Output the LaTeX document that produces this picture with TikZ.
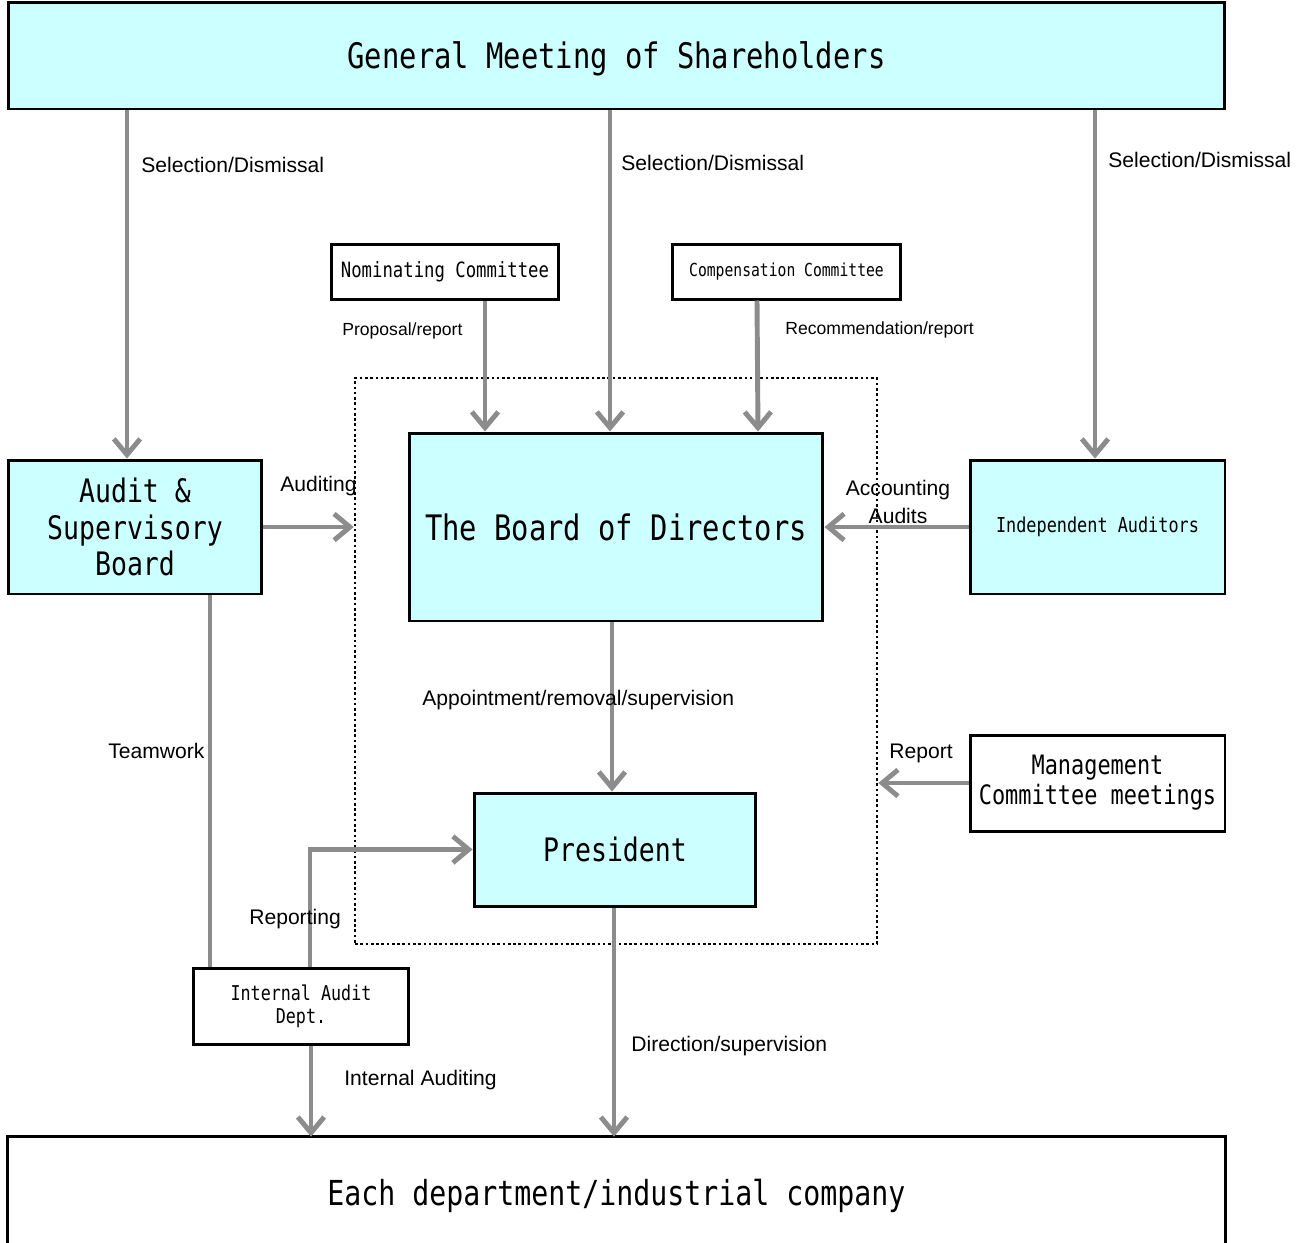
\documentclass[tikz,border=0pt]{standalone}
\usepackage{fontspec}
\setmainfont{Liberation Sans}
\newfontfamily\boxfont[FakeStretch=0.82]{DejaVu Sans Mono}
\usetikzlibrary{arrows.meta,calc}
\definecolor{boxcyan}{HTML}{CCFFFF}
\definecolor{arrowgray}{HTML}{8C8C8C}
\tikzset{
    orgbox/.style={draw=black,line width=1.7pt,inner sep=0pt,align=center},
    cyanbox/.style={orgbox,fill=boxcyan},
    arr/.style={draw=arrowgray,line width=2.8pt,-{Straight Barb[length=9pt,width=15pt]}},
    link/.style={draw=arrowgray,line width=2.8pt},
    lbl/.style={font=\fontsize{12}{14}\selectfont,inner sep=0pt,anchor=west},
    smalllbl/.style={font=\fontsize{10}{12}\selectfont,inner sep=0pt,anchor=west}
}
\begin{document}
\begin{tikzpicture}[x=0.02cm,y=-0.02cm]
        \useasboundingbox (0,0) rectangle (1307,1242);

        % boxes
        \node[cyanbox,minimum width=24.34cm,minimum height=2.14cm,text depth=0pt,font=\boxfont\fontsize{20}{24}\selectfont] (gm) at (616.5,55.5) {General Meeting of Shareholders};
        \node[orgbox,minimum width=4.56cm,minimum height=1.1cm,font=\boxfont\fontsize{12}{14}\selectfont] (nom) at (445,271.5) {Nominating Committee};
        \node[orgbox,minimum width=4.58cm,minimum height=1.1cm,font=\boxfont\fontsize{10.2}{12}\selectfont] (comp) at (786.5,271.5) {Compensation Committee};
        \node[draw,line width=1.5pt,dash pattern=on 1.5pt off 1.5pt,minimum width=10.44cm,minimum height=11.32cm] (core) at (616,661) {};
        \node[cyanbox,minimum width=8.28cm,minimum height=3.76cm,font=\boxfont\fontsize{20}{24}\selectfont] (bod) at (616,527) {The Board of Directors};
        \node[cyanbox,minimum width=5.08cm,minimum height=2.68cm,font=\boxfont\fontsize{18.4}{21}\selectfont] (asb) at (135,527) {Audit \&\\Supervisory\\Board};
        \node[cyanbox,minimum width=5.1cm,minimum height=2.68cm,font=\boxfont\fontsize{11.7}{14}\selectfont] (ia) at (1097.5,527) {Independent Auditors};
        \node[cyanbox,minimum width=5.64cm,minimum height=2.26cm,font=\boxfont\fontsize{18.4}{22}\selectfont] (pres) at (615,849.5) {President};
        \node[orgbox,minimum width=5.1cm,minimum height=1.92cm,font=\boxfont\fontsize{15.2}{17}\selectfont] (mgmt) at (1097.5,783) {Management\\Committee meetings};
        \node[orgbox,minimum width=4.32cm,minimum height=1.52cm,font=\boxfont\fontsize{11.6}{13}\selectfont] (iad) at (301,1006) {Internal Audit\\Dept.};
        \node[inner sep=0pt,minimum width=24.34cm,minimum height=2.2cm,text depth=0pt,font=\boxfont\fontsize{19.6}{23}\selectfont] (dept) at (616.5,1192) {Each department/industrial company};
        \draw[line width=1.7pt] (dept.south west) -- (dept.north west) -- (dept.north east) -- (dept.south east);

        % connectors
        \draw[arr] (gm.south -| 127,0) -- (asb.north -| 127,0);
        \draw[arr] (gm.south -| 610,0) -- (bod.north -| 610,0);
        \draw[arr] (gm.south -| 1095,0) -- (ia.north -| 1095,0);
        \draw[arr] (nom.south -| 485,0) -- (bod.north -| 485,0);
        \draw[arr] (comp.south -| 757,0) -- (bod.north -| 758,0);
        \draw[arr] (asb.east) -- (core.west |- asb.east);
        \draw[arr] (ia.west) -- (bod.east |- ia.west);
        \draw[arr] (bod.south -| 612,0) -- (pres.north -| 612,0);
        \draw[arr] (mgmt.west) -- (core.east |- mgmt.west);
        \draw[link] (asb.south -| 210,0) -- (iad.north -| 210,0);
        \draw[arr] (iad.north -| 310,0) |- (pres.west);
        \draw[arr] (iad.south -| 311,0) -- (dept.north -| 311,0);
        \draw[arr] (pres.south -| 614,0) -- (dept.north -| 614,0);

        % labels
        \node[lbl] (sel1) at (141,165) {Selection/Dismissal};
        \node[lbl] (sel2) at (621,163) {Selection/Dismissal};
        \node[lbl] (sel3) at (1108,160) {Selection/Dismissal};
        \node[smalllbl] (prop) at (342,331) {Proposal/report};
        \node[smalllbl] (recom) at (785,330) {Recommendation/report};
        \node[lbl] (audit) at (280,486) {Auditing};
        \node[lbl,anchor=center,align=center,font=\fontsize{12}{16}\selectfont] (acct) at (898,502) {Accounting\\Audits};
        \node[lbl] (appt) at (422,700) {Appointment/removal/supervision};
        \node[lbl] (rep) at (889,753) {Report};
        \node[lbl] (team) at (108,751) {Teamwork};
        \node[lbl] (repting) at (249,919) {Reporting};
        \node[lbl] (intaud) at (344,1080) {Internal Auditing};
        \node[lbl] (dirsup) at (631,1046) {Direction/supervision};
\end{tikzpicture}
\end{document}
